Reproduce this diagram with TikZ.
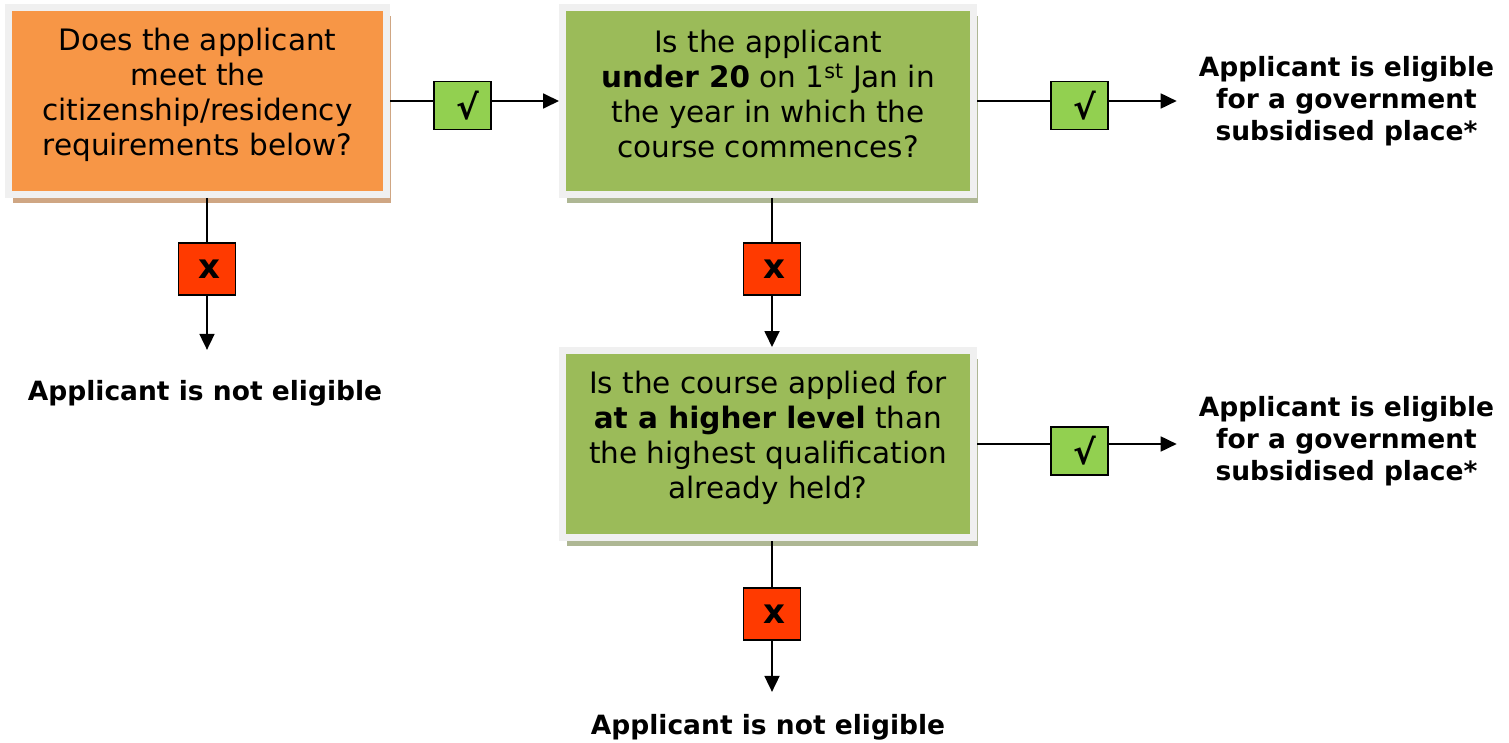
\documentclass[tikz,border=0pt]{standalone}
\usepackage{fontspec}
\setmainfont{DejaVu Sans}
\usepackage{tikz}
\usetikzlibrary{shadows}
\usetikzlibrary{arrows.meta}
\definecolor{qorange}{HTML}{F79646}
\definecolor{qgreen}{HTML}{9BBB59}
\definecolor{framegray}{HTML}{F0F0F0}
\definecolor{shadeorange}{HTML}{CFA683}
\definecolor{shadegreen}{HTML}{AEB794}
\definecolor{yesgreen}{HTML}{92D050}
\definecolor{nored}{HTML}{FF3A00}
\tikzstyle{qbox}=[draw=framegray, line width=7pt, minimum height=187pt]
\tikzstyle{qtext}=[align=center, inner sep=0pt, font=\fontsize{29.5}{35}\selectfont]
\tikzstyle{yesbox}=[draw, line width=1.8pt, fill=yesgreen, minimum width=57pt, minimum height=48pt, inner sep=0pt, font=\fontsize{34}{36}\selectfont\bfseries]
\tikzstyle{nobox}=[draw, line width=1.8pt, fill=nored, minimum width=57pt, minimum height=52pt, inner sep=0pt, font=\fontsize{34}{36}\selectfont\bfseries]
\tikzstyle{outcome}=[align=center, inner sep=0pt, font=\fontsize{26.5}{32}\selectfont\bfseries]
\tikzstyle{flow}=[line width=1.8pt, -{Triangle[length=16pt, width=15pt]}]

\begin{document}
\begin{tikzpicture}[x=1pt, y=-1pt]
        \useasboundingbox (0, 0) rectangle (1509, 743);
        \node[qbox, fill=qorange, minimum width=378pt, drop shadow={shadow xshift=4.5pt, shadow yshift=-8.5pt, fill=shadeorange, opacity=1}] (Q1) at (197.5, 101) {};
        \node[qbox, fill=qgreen, minimum width=411pt, drop shadow={shadow xshift=4.5pt, shadow yshift=-8.5pt, fill=shadegreen, opacity=1}] (Q2) at (768, 101) {};
        \node[qbox, fill=qgreen, minimum width=411pt, drop shadow={shadow xshift=4.5pt, shadow yshift=-8.5pt, fill=shadegreen, opacity=1}] (Q3) at (768, 444) {};
        \node[qtext] (Q1text) at (197.5, 94.5) {Does the applicant\\meet the\\citizenship/residency\\requirements below?};
        \node[qtext] (Q2text) at (768, 94.5) {Is the applicant\\\textbf{under 20} on 1\textsuperscript{st} Jan in\\the year in which the\\course commences?};
        \node[qtext] (Q3text) at (768, 438) {Is the course applied for\\\textbf{at a higher level} than\\the highest qualification\\already held?};
        \node[yesbox] (Yes1) at (462.5, 105.5) {\hspace*{10pt}√};
        \node[yesbox] (Yes2) at (1079.5, 105.5) {\hspace*{10pt}√};
        \node[yesbox] (Yes3) at (1079.5, 451) {\hspace*{10pt}√};
        \node[nobox] (No1) at (207, 269) {\hspace*{4pt}x};
        \node[nobox] (No2) at (772, 269) {\hspace*{4pt}x};
        \node[nobox] (No3) at (772, 614) {\hspace*{4pt}x};
        \node[outcome] (Elig1) at (1346.5, 101) {Applicant is eligible\\for a government\\subsidised place*};
        \node[outcome] (Elig2) at (1346.5, 441) {Applicant is eligible\\for a government\\subsidised place*};
        \node[outcome] (NotElig1) at (205, 393) {Applicant is not eligible};
        \node[outcome] (NotElig2) at (768, 727) {Applicant is not eligible};
        \draw[line width=1.8pt] (Q1.east) -- (Q1.east -| Yes1.west);
        \draw[flow] (Yes1.east |- Q1.east) -- (Q2.west);
        \draw[line width=1.8pt] (Q2.east) -- (Q2.east -| Yes2.west);
        \draw[flow] (Yes2.east |- Q2.east) -- ([xshift=-22pt]Elig1.west |- Q2.east);
        \draw[line width=1.8pt] (Q3.east) -- (Q3.east -| Yes3.west);
        \draw[flow] (Yes3.east |- Q3.east) -- ([xshift=-22pt]Elig2.west |- Q3.east);
        \draw[line width=1.8pt] (Q1.south -| No1) -- (No1.north);
        \draw[flow] (No1.south) -- ([yshift=30pt]NotElig1.north -| No1);
        \draw[line width=1.8pt] (Q2.south -| No2) -- (No2.north);
        \draw[flow] (No2.south) -- (Q3.north -| No2);
        \draw[line width=1.8pt] (Q3.south -| No3) -- (No3.north);
        \draw[flow] (No3.south) -- ([yshift=22pt]NotElig2.north -| No3);
    \end{tikzpicture}
\end{document}
